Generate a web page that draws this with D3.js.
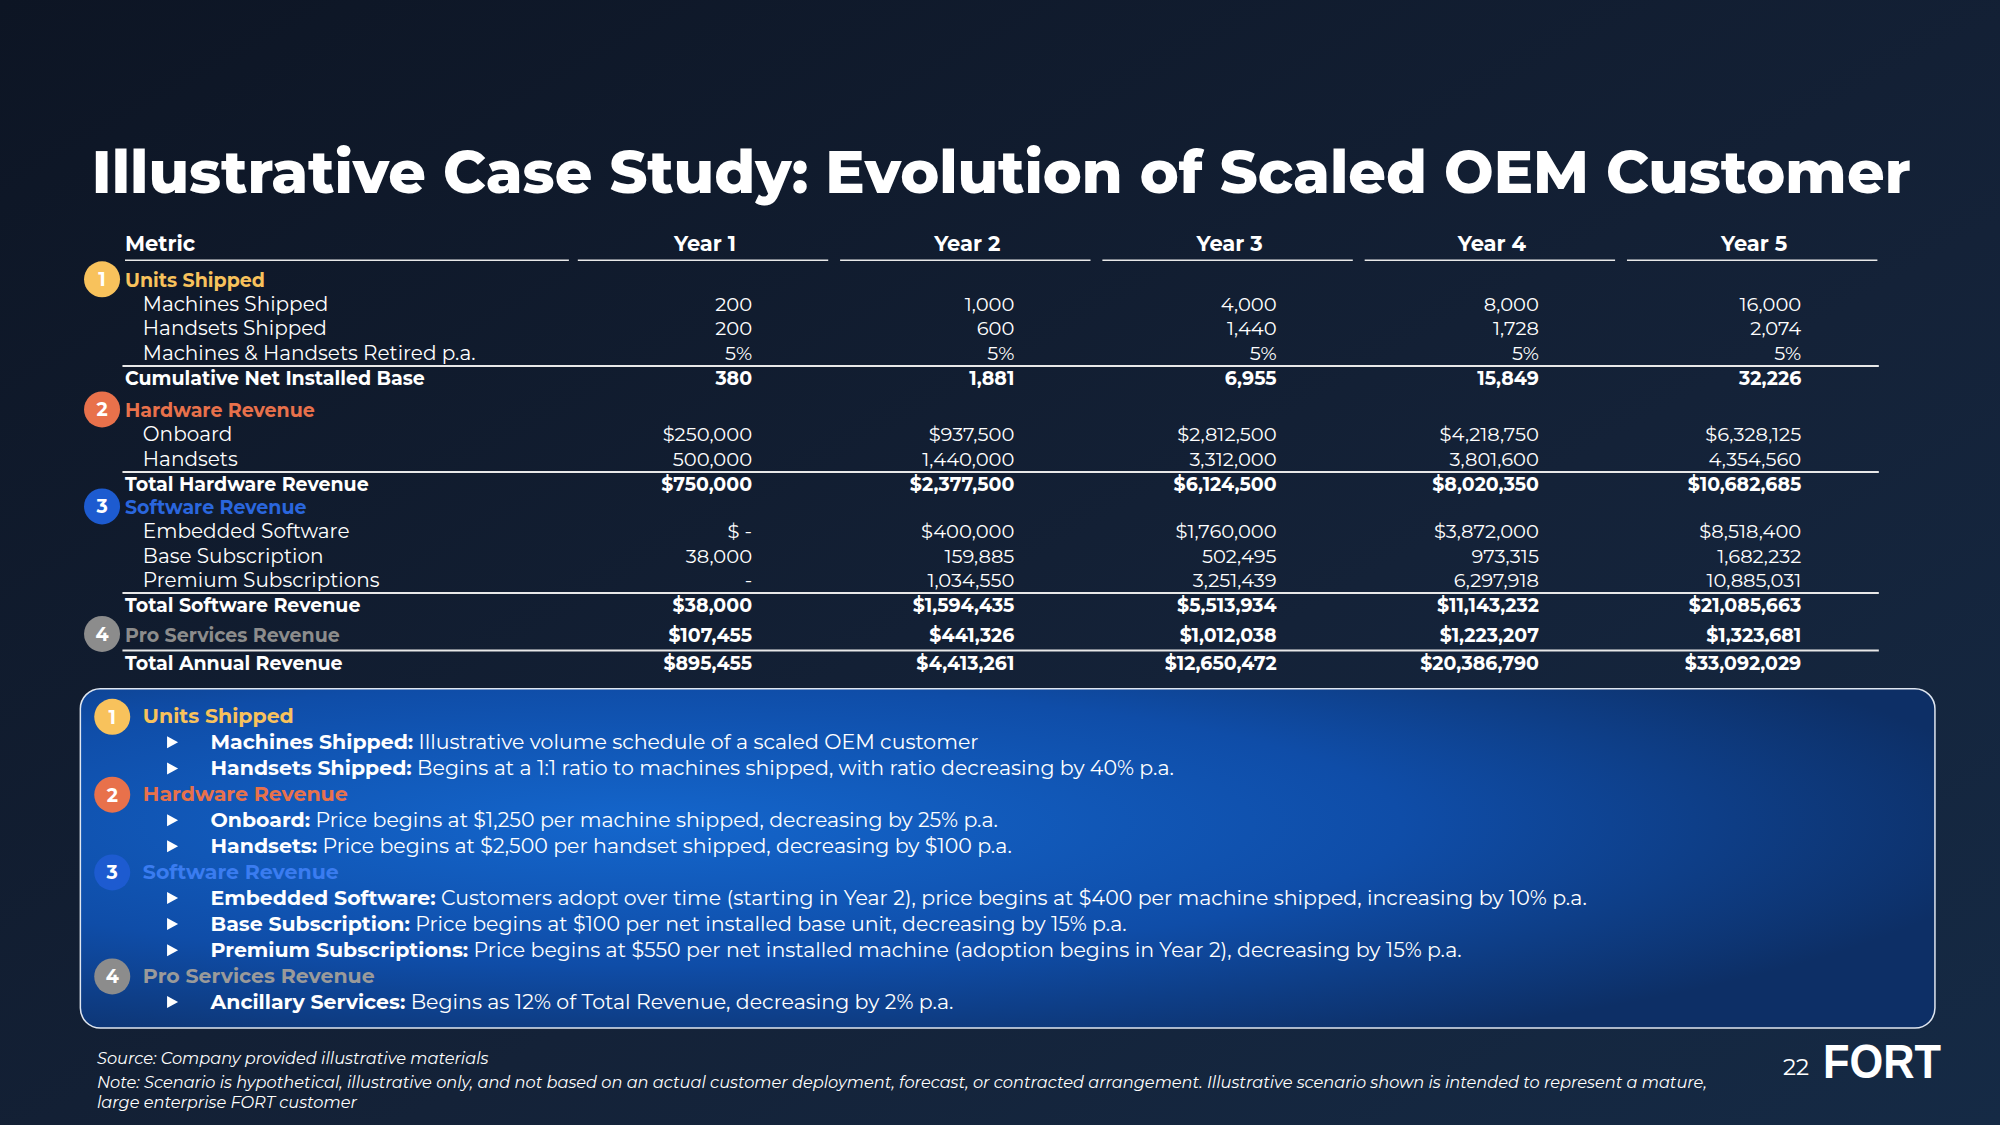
<!DOCTYPE html>
<html>
<head>
<meta charset="utf-8" />
<style>
  body { margin: 0; background: #111c2e; }
  svg { display: block; }
</style>
</head>
<body>
<svg id="svg" width="2000" height="1125"></svg>
<script src="https://cdn.jsdelivr.net/npm/d3@7"></script>
<script>
const years = ['Year 1', 'Year 2', 'Year 3', 'Year 4', 'Year 5']

// kind: sec = section header, item = indented line, total = bold total
const rowLabels = ['Units Shipped', 'Machines Shipped', 'Handsets Shipped', 'Machines & Handsets Retired p.a.',
  'Cumulative Net Installed Base', 'Hardware Revenue', 'Onboard', 'Handsets', 'Total Hardware Revenue',
  'Software Revenue', 'Embedded Software', 'Base Subscription', 'Premium Subscriptions',
  'Total Software Revenue', 'Pro Services Revenue', 'Total Annual Revenue']
const rowKinds = ['sec1', 'item', 'item', 'item', 'total', 'sec2', 'item', 'item', 'total',
  'sec3', 'item', 'item', 'item', 'total', 'sec4', 'total']
const rowY = [220, 239, 258, 277, 297, 322, 341, 360, 380, 398, 417, 436, 455, 475, 498, 520]
const lineAbove = [4, 8, 13, 15]

const rowValues = [
  null,
  ['200', '1,000', '4,000', '8,000', '16,000'],
  ['200', '600', '1,440', '1,728', '2,074'],
  ['5%', '5%', '5%', '5%', '5%'],
  ['380', '1,881', '6,955', '15,849', '32,226'],
  null,
  ['$250,000', '$937,500', '$2,812,500', '$4,218,750', '$6,328,125'],
  ['500,000', '1,440,000', '3,312,000', '3,801,600', '4,354,560'],
  ['$750,000', '$2,377,500', '$6,124,500', '$8,020,350', '$10,682,685'],
  null,
  ['$ -', '$400,000', '$1,760,000', '$3,872,000', '$8,518,400'],
  ['38,000', '159,885', '502,495', '973,315', '1,682,232'],
  ['-', '1,034,550', '3,251,439', '6,297,918', '10,885,031'],
  ['$38,000', '$1,594,435', '$5,513,934', '$11,143,232', '$21,085,663'],
  ['$107,455', '$441,326', '$1,012,038', '$1,223,207', '$1,323,681'],
  ['$895,455', '$4,413,261', '$12,650,472', '$20,386,790', '$33,092,029']
]

const secColors = { 1: '#f8c25c', 2: '#e8714b', 3: '#1d5bd0', 4: '#8c8c8c' }

const notes = [
  { sec: 1, title: 'Units Shipped', items: [
    ['Machines Shipped:', ' Illustrative volume schedule of a scaled OEM customer'],
    ['Handsets Shipped:', ' Begins at a 1:1 ratio to machines shipped, with ratio decreasing by 40% p.a.']] },
  { sec: 2, title: 'Hardware Revenue', items: [
    ['Onboard:', ' Price begins at $1,250 per machine shipped, decreasing by 25% p.a.'],
    ['Handsets:', ' Price begins at $2,500 per handset shipped, decreasing by $100 p.a.']] },
  { sec: 3, title: 'Software Revenue', items: [
    ['Embedded Software:', ' Customers adopt over time (starting in Year 2), price begins at $400 per machine shipped, increasing by 10% p.a.'],
    ['Base Subscription:', ' Price begins at $100 per net installed base unit, decreasing by 15% p.a.'],
    ['Premium Subscriptions:', ' Price begins at $550 per net installed machine (adoption begins in Year 2), decreasing by 15% p.a.']] },
  { sec: 4, title: 'Pro Services Revenue', items: [
    ['Ancillary Services:', ' Begins as 12% of Total Revenue, decreasing by 2% p.a.']] }
]

const k = 2000 / 1568
const font = 'Montserrat, "Open Sans", sans-serif'
const svg = d3.select('#svg')
const defs = svg.append('defs')

const bg = defs.append('linearGradient').attr('id', 'bg').attr('x1', 0).attr('y1', 0).attr('x2', 1).attr('y2', 1)
bg.append('stop').attr('offset', 0).attr('stop-color', '#0d1524')
bg.append('stop').attr('offset', 0.6).attr('stop-color', '#142238')
bg.append('stop').attr('offset', 1).attr('stop-color', '#152a45')
svg.append('rect').attr('width', 2000).attr('height', 1125).attr('fill', 'url(#bg)')

const bx = defs.append('radialGradient').attr('id', 'box').attr('cx', 0.3).attr('cy', 0.4).attr('r', 0.75)
bx.append('stop').attr('offset', 0).attr('stop-color', '#1466cc')
bx.append('stop').attr('offset', 0.55).attr('stop-color', '#0f4da8')
bx.append('stop').attr('offset', 1).attr('stop-color', '#0d2f66')

// title
svg.append('text').attr('x', 72 * k).attr('y', 151 * k)
  .attr('font-family', font).attr('font-weight', 800).attr('font-size', 60).attr('fill', '#fff')
  .attr('textLength', 1426 * k).attr('lengthAdjust', 'spacingAndGlyphs')
  .text('Illustrative Case Study: Evolution of Scaled OEM Customer')

// column scale
const x = d3.scaleBand().domain(years).range([453 * k, 1475 * k]).paddingInner(0.03)
const g = svg.append('g').attr('font-family', font).attr('fill', '#fff')

g.append('text').attr('x', 98 * k).attr('y', 197 * k).attr('font-size', 21).attr('font-weight', 700).text('Metric')
g.append('line').attr('x1', 98 * k).attr('x2', 446 * k).attr('y1', 204 * k).attr('y2', 204 * k).attr('stroke', '#e8e8e8').attr('stroke-width', 1.5)
years.forEach(y => {
  g.append('text').attr('x', x(y) + x.bandwidth() / 2).attr('y', 197 * k).attr('text-anchor', 'middle')
    .attr('font-size', 21).attr('font-weight', 700).text(y)
  g.append('line').attr('x1', x(y)).attr('x2', x(y) + x.bandwidth() - 4).attr('y1', 204 * k).attr('y2', 204 * k)
    .attr('stroke', '#e8e8e8').attr('stroke-width', 1.5)
})

lineAbove.forEach(i => {
  const yy = (rowY[i] - 10) * k
  g.append('line').attr('x1', 96 * k).attr('x2', 1473 * k).attr('y1', yy).attr('y2', yy).attr('stroke', '#e8e8e8').attr('stroke-width', 2)
})

function badge(sel, cx, cy, n) {
  sel.append('circle').attr('cx', cx).attr('cy', cy).attr('r', 18).attr('fill', secColors[n])
  sel.append('text').attr('x', cx).attr('y', cy + 7).attr('text-anchor', 'middle').attr('font-family', font)
    .attr('font-size', 19).attr('font-weight', 700).attr('fill', '#fff').text(n)
}

rowLabels.forEach((lab, i) => {
  const kind = rowKinds[i]
  const yy = (rowY[i] + 5) * k
  const sec = kind.startsWith('sec') ? +kind[3] : 0
  const t = g.append('text').attr('y', yy).attr('font-size', kind === 'item' ? 20 : 19)
    .attr('x', (kind === 'item' ? 112 : 98) * k)
    .attr('font-weight', kind === 'item' ? 400 : 700)
    .attr('fill', sec ? secColors[sec] : '#fff').text(lab)
  if (sec === 3) t.attr('fill', '#2a66dd')
  if (sec) badge(g, 80 * k, (rowY[i] - 1) * k, sec)
  if (rowValues[i]) {
    years.forEach((y, j) => {
      g.append('text').attr('x', x(y) + x.bandwidth() * 0.685).attr('y', yy).attr('text-anchor', 'end')
        .attr('font-size', kind === 'item' ? 19.5 : 19).attr('font-weight', kind === 'item' ? 400 : 700)
        .text(rowValues[i][j])
    })
  }
})

// notes box
svg.append('rect').attr('x', 63 * k).attr('y', 540 * k).attr('width', 1454 * k).attr('height', 266 * k)
  .attr('rx', 20).attr('fill', 'url(#box)').attr('stroke', '#dfe6f0').attr('stroke-width', 1.5)
const nb = svg.append('g').attr('font-family', font).attr('fill', '#fff').attr('font-size', 20.5)
let ny = 562
notes.forEach(n => {
  badge(nb, 88 * k, ny * k, n.sec)
  nb.append('text').attr('x', 112 * k).attr('y', (ny + 5) * k).attr('font-weight', 700)
    .attr('fill', n.sec === 3 ? '#3a7cf0' : n.sec === 4 ? '#9a9a9a' : secColors[n.sec]).text(n.title)
  ny += 20
  n.items.forEach(it => {
    const cy = ny * k
    nb.append('path').attr('d', `M${131 * k},${cy - 6}L${131 * k + 11},${cy}L${131 * k},${cy + 6}Z`).attr('fill', '#fff')
    const t = nb.append('text').attr('x', 165 * k).attr('y', cy + 7)
    t.append('tspan').attr('font-weight', 700).text(it[0])
    t.append('tspan').text(it[1])
    ny += 20.5
  })
})

// footer
const ft = svg.append('g').attr('font-family', font).attr('font-style', 'italic').attr('fill', '#fff').attr('font-size', 16.2)
ft.append('text').attr('x', 76 * k).attr('y', 834 * k).text('Source: Company provided illustrative materials')
ft.append('text').attr('x', 76 * k).attr('y', 853 * k).text('Note: Scenario is hypothetical, illustrative only, and not based on an actual customer deployment, forecast, or contracted arrangement. Illustrative scenario shown is intended to represent a mature,')
ft.append('text').attr('x', 76 * k).attr('y', 869 * k).text('large enterprise FORT customer')
svg.append('text').attr('x', 1783).attr('y', 1075).attr('font-family', font).attr('font-size', 23).attr('fill', '#fff').text('22')
svg.append('text').attr('x', 1823).attr('y', 1078).attr('font-family', '"Liberation Sans", Arial, sans-serif')
  .attr('font-weight', 700).attr('font-size', 48).attr('fill', '#fff')
  .attr('textLength', 118).attr('lengthAdjust', 'spacingAndGlyphs').text('FORT')
</script>
</body>
</html>
